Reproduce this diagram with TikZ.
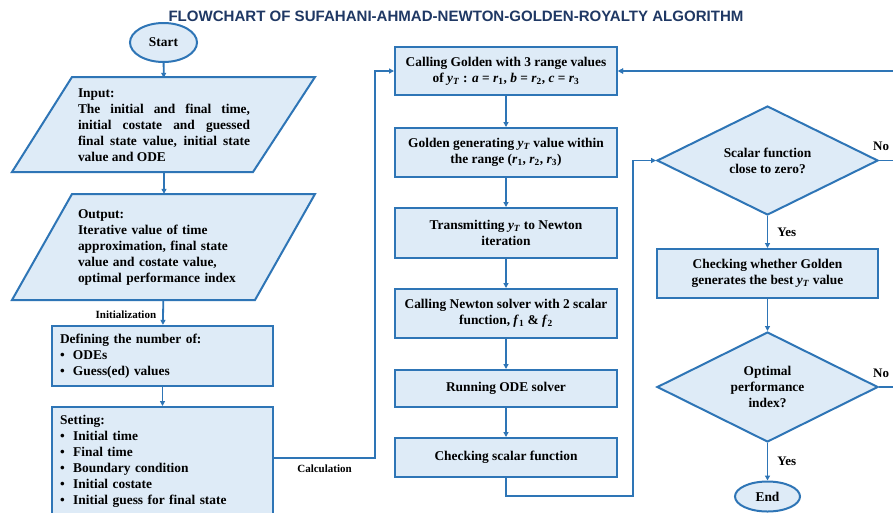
\documentclass[tikz,border=0pt]{standalone}
\usepackage{fontspec}
\usepackage{graphicx}
\setmainfont{Liberation Serif}
\newfontfamily\titlefont{Liberation Sans}
\usetikzlibrary{shapes.geometric,arrows.meta,calc}
\definecolor{edgec}{RGB}{46,117,182}
\definecolor{fillb}{RGB}{222,235,247}
\definecolor{titlec}{RGB}{31,56,100}
\newcommand{\yT}{\textit{y}\textsubscript{\textit{T}}}
\newcommand{\sbv}[2]{\textit{#1}\textsubscript{#2}}
\newcommand{\bul}{\makebox[13pt][l]{\textbullet}}
\begin{document}
\begin{tikzpicture}[x=1pt,y=-1pt,
  font=\bfseries\fontsize{13.4}{16}\selectfont,
  box/.style={draw=edgec, fill=fillb, line width=2pt, align=center, inner sep=2pt, minimum width=222pt},
  term/.style={ellipse, draw=edgec, fill=fillb, line width=2pt, inner sep=0pt},
  dec/.style={diamond, draw=edgec, fill=fillb, line width=2pt, align=center, aspect=2, inner sep=0pt, minimum width=221pt, minimum height=109pt},
  para/.style={draw=edgec, fill=fillb, line width=2pt, line join=miter},
  conn/.style={draw=edgec, line width=1.8pt, -{Triangle[length=5pt,width=5pt]}},
  lbl/.style={font=\bfseries\fontsize{11}{12}\selectfont, inner sep=1pt},
  yn/.style={font=\bfseries\fontsize{13}{14}\selectfont, inner sep=1pt}]
\useasboundingbox (0,0) rectangle (893,512);
\clip (0,0) rectangle (893,512);
\fill[white] (0,0) rectangle (893,512);

% title
\node[inner sep=0pt] (title) at (456,16) {\titlefont\bfseries\color{titlec}\resizebox{575pt}{10.5pt}{FLOWCHART OF SUFAHANI-AHMAD-NEWTON-GOLDEN-ROYALTY ALGORITHM}};

% left column
\node[term, minimum width=67pt, minimum height=39pt] (start) at (163.5,42.5) {Start};
\filldraw[para] (72,77) -- (315,77) -- (253,172) -- (12,172) -- cycle;
\node[text width=172pt, align=justify, inner sep=0pt, minimum height=95pt] (inp) at (164,125.5)
  {Input:\\ The initial and final time,\linebreak initial costate and guessed\linebreak final state value, initial state\linebreak value and ODE};
\filldraw[para] (72,194) -- (315,194) -- (255,300) -- (12,300) -- cycle;
\node[text width=172pt, align=left, inner sep=0pt, minimum height=106pt] (out) at (164,247)
  {Output:\\ Iterative value of time\\ approximation, final state\\ value and costate value,\\ optimal performance index};
\node[box, minimum width=0pt, text width=205pt, align=left, inner sep=8pt, minimum height=58pt] (def) at (162.5,356)
  {Defining the number of:\\ \bul ODEs\\ \bul Guess(ed) values};
\node[box, minimum width=221pt, minimum height=116pt, anchor=north] (set) at (162.5,406) {};
\node[text width=205pt, align=left, inner sep=0pt, anchor=north west] (settxt) at (60,415)
  {Setting:\\ \bul Initial time\\ \bul Final time\\ \bul Boundary condition\\ \bul Initial costate\\ \bul Initial guess for final state};

% middle column
\node[box, minimum height=48pt] (g1) at (506,71) {Calling Golden with 3 range values\\ of \yT\ : \textit{a} = \sbv{r}{1}, \textit{b} = \sbv{r}{2}, \textit{c} = \sbv{r}{3}};
\node[box, minimum height=49pt] (g2) at (506,152.5) {Golden generating \yT\ value within\\ the range (\sbv{r}{1}, \sbv{r}{2}, \sbv{r}{3})};
\node[box, minimum height=50pt] (tr) at (506,233) {Transmitting \yT\ to Newton\\ iteration};
\node[box, minimum height=49pt] (nw) at (506,313.5) {Calling Newton solver with 2 scalar\\ function, \sbv{f}{1} \& \sbv{f}{2}};
\node[box, minimum height=37pt] (ode) at (506,388.5) {Running ODE solver};
\node[box, minimum height=39pt] (chk) at (506,457.5) {Checking scalar function};

% right column
\node[dec] (d1) at (767.5,160.5) {Scalar function\\ close to zero?};
\node[box, minimum width=221pt, minimum height=49pt] (chw) at (767.5,273.5) {Checking whether Golden\\ generates the best \yT\ value};
\node[dec, minimum height=110pt] (d2) at (767.5,387) {Optimal\\ performance\\ index?};
\node[term, minimum width=65pt, minimum height=30pt] (end) at (767.5,496.5) {End};

% connectors
\draw[conn] (start) -- (inp);
\draw[conn] (inp) -- (out);
\draw[conn] (out) -- node[lbl, left=5pt, pos=0.6] {Initialization} (def);
\draw[conn] (def) -- (set);
\coordinate (setE) at ($(set.north east)+(0,52)$);
\coordinate (calc) at (375,458);
\draw[conn] (setE) -- node[lbl, below=5pt, midway] {Calculation} (calc) |- (g1.west);
\draw[conn] (g1) -- (g2);
\draw[conn] (g2) -- (tr);
\draw[conn] (tr) -- (nw);
\draw[conn] (nw) -- (ode);
\draw[conn] (ode) -- (chk);
\coordinate (lb) at (633,496);
\draw[conn] (chk.south) |- (lb) |- (d1.west);
\coordinate (r1) at (905,160.5);
\coordinate (r2) at (905,387);
\draw[conn] (d1.east) -- (r1) |- (g1.east);
\draw[conn] (d2.east) -- (r2) |- (g1.east);
\node[yn, anchor=south west] (no1) at (872,152) {No};
\node[yn, anchor=south west] (no2) at (872,379) {No};
\draw[conn] (d1) -- node[yn, right=8pt, midway] {Yes} (chw);
\draw[conn] (chw) -- (d2);
\draw[conn] (d2) -- node[yn, right=8pt, midway] {Yes} (end);
\end{tikzpicture}
\end{document}
